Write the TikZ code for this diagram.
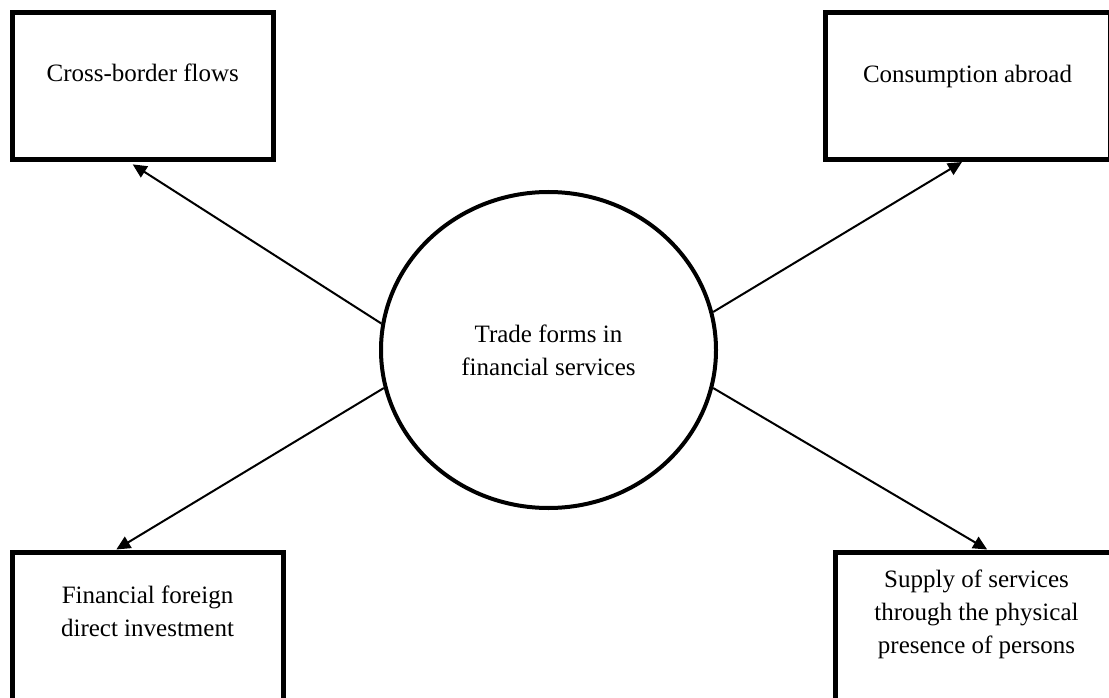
\documentclass[tikz,border=0pt]{standalone}
\usepackage{fontspec}
\setmainfont{Liberation Serif}
\usetikzlibrary{shapes.geometric,arrows.meta,calc}
\tikzset{
  box/.style={draw, line width=5pt, rectangle, inner sep=0pt},
  lbl/.style={inner sep=0pt, align=center, font=\fontsize{25}{33.3}\selectfont},
  hub/.style={draw, line width=4pt, ellipse, inner sep=0pt, minimum width=335pt, minimum height=316pt, align=center, font=\fontsize{25}{33.3}\selectfont},
  link/.style={line width=2pt, -{Triangle[length=14pt,width=13pt]}}
}
\begin{document}
\begin{tikzpicture}[x=1pt,y=-1pt]
\useasboundingbox[fill=white] (0,0) rectangle (1109,698);
\node[hub] (c) at (548.5,350) {Trade forms in\\financial services};
\node[box, minimum width=260.5pt, minimum height=147.5pt,
  label={[lbl, anchor=north, yshift=-53.5pt]north:Cross-border flows}] (tl) at (142.75,86.25) {};
\node[box, minimum width=285pt, minimum height=147pt,
  label={[lbl, anchor=north, yshift=-54.5pt]north:Consumption abroad}] (tr) at (967.5,86) {};
\node[box, minimum width=271pt, minimum height=188pt,
  label={[lbl, anchor=north, yshift=-36pt]north:{Financial foreign\\direct investment}}] (bl) at (147.5,646) {};
\node[box, minimum width=283pt, minimum height=188pt,
  label={[lbl, anchor=north, yshift=-20pt]north:{Supply of services\\through the physical\\presence of persons}}] (br) at (976.5,646) {};
\draw[link, shorten >=3.5pt] (c.171) -- ($(tl.south west)!0.451!(tl.south east)$);
\draw[link] (c.13.7) -- ($(tr.south west)!0.481!(tr.south east)$);
\draw[link] (c.193) -- ($(bl.north west)!0.387!(bl.north east)$);
\draw[link] (c.347) -- ($(br.north west)!0.537!(br.north east)$);
\end{tikzpicture}
\end{document}
